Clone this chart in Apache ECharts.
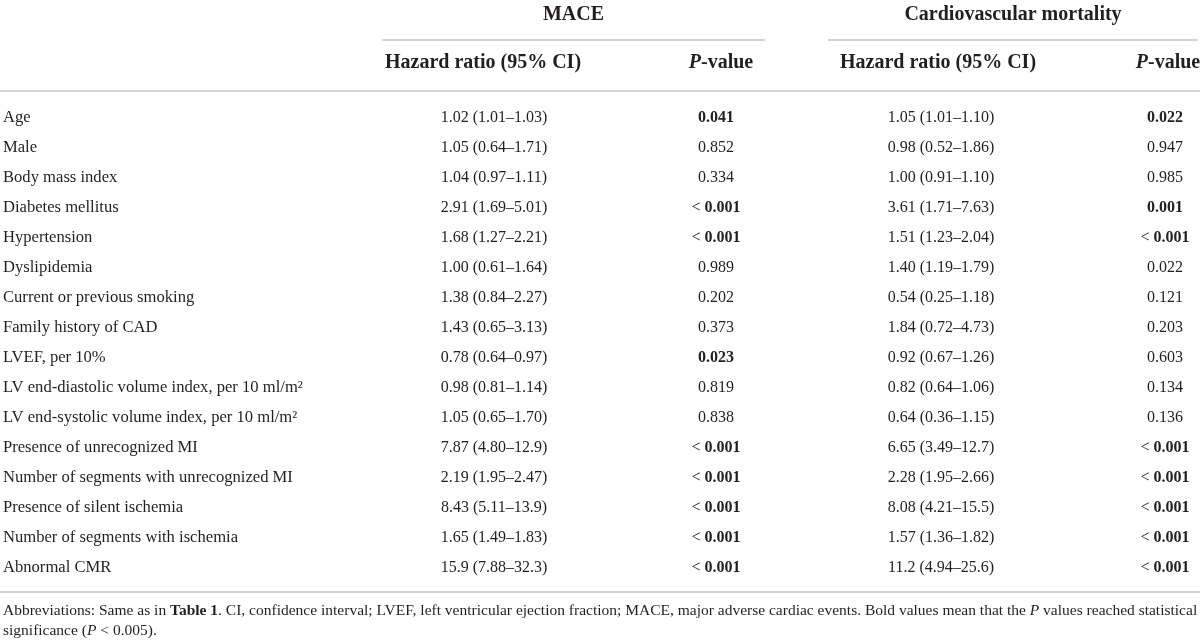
<!DOCTYPE html>
<html lang="en">
<head>
<meta charset="utf-8">
<title>Cox regression table</title>
<script src="https://cdn.jsdelivr.net/npm/echarts@6/dist/echarts.min.js"></script>
<style>
  html, body { margin: 0; padding: 0; background: #fff; }
  #main { width: 1200px; height: 643px; }
</style>
</head>
<body>
<div id="main"></div>
<script type="text/javascript">
  // table content
  let rowNames = [
    'Age', 'Male', 'Body mass index', 'Diabetes mellitus', 'Hypertension', 'Dyslipidemia',
    'Current or previous smoking', 'Family history of CAD', 'LVEF, per 10%',
    'LV end-diastolic volume index, per 10 ml/m\u00b2', 'LV end-systolic volume index, per 10 ml/m\u00b2',
    'Presence of unrecognized MI', 'Number of segments with unrecognized MI',
    'Presence of silent ischemia', 'Number of segments with ischemia', 'Abnormal CMR'
  ];
  let maceHR = [
    '1.02 (1.01\u20131.03)', '1.05 (0.64\u20131.71)', '1.04 (0.97\u20131.11)', '2.91 (1.69\u20135.01)',
    '1.68 (1.27\u20132.21)', '1.00 (0.61\u20131.64)', '1.38 (0.84\u20132.27)', '1.43 (0.65\u20133.13)',
    '0.78 (0.64\u20130.97)', '0.98 (0.81\u20131.14)', '1.05 (0.65\u20131.70)', '7.87 (4.80\u201312.9)',
    '2.19 (1.95\u20132.47)', '8.43 (5.11\u201313.9)', '1.65 (1.49\u20131.83)', '15.9 (7.88\u201332.3)'
  ];
  let maceP = ['0.041', '0.852', '0.334', '< 0.001', '< 0.001', '0.989', '0.202', '0.373',
    '0.023', '0.819', '0.838', '< 0.001', '< 0.001', '< 0.001', '< 0.001', '< 0.001'];
  let maceBold = [1, 0, 0, 1, 1, 0, 0, 0, 1, 0, 0, 1, 1, 1, 1, 1];
  let cvHR = [
    '1.05 (1.01\u20131.10)', '0.98 (0.52\u20131.86)', '1.00 (0.91\u20131.10)', '3.61 (1.71\u20137.63)',
    '1.51 (1.23\u20132.04)', '1.40 (1.19\u20131.79)', '0.54 (0.25\u20131.18)', '1.84 (0.72\u20134.73)',
    '0.92 (0.67\u20131.26)', '0.82 (0.64\u20131.06)', '0.64 (0.36\u20131.15)', '6.65 (3.49\u201312.7)',
    '2.28 (1.95\u20132.66)', '8.08 (4.21\u201315.5)', '1.57 (1.36\u20131.82)', '11.2 (4.94\u201325.6)'
  ];
  let cvP = ['0.022', '0.947', '0.985', '0.001', '< 0.001', '0.022', '0.121', '0.203',
    '0.603', '0.134', '0.136', '< 0.001', '< 0.001', '< 0.001', '< 0.001', '< 0.001'];
  let cvBold = [1, 0, 0, 1, 1, 0, 0, 0, 0, 0, 0, 1, 1, 1, 1, 1];

  let groupTitles = ['MACE', 'Cardiovascular mortality'];
  let columnTitles = ['Hazard ratio (95% CI)', '{i|P}-value', 'Hazard ratio (95% CI)', '{i|P}-value'];
  let footnote = '{r|Abbreviations: Same as in }{b|Table 1}{r|. CI, confidence interval; LVEF, left ventricular ejection fraction; MACE, major adverse cardiac events. Bold values mean that the }{i|P}{r| values reached statistical}\n{r|significance (}{i|P}{r| < 0.005).}';

  // layout
  const FONT = '"Liberation Serif", "Times New Roman", serif';
  const INK = '#231f20';
  const RULE = '#c6c6c6';
  const rowH = 30;
  const rowTop = 103;
  const colX = [3, 494, 716, 941, 1165];      // body cell anchors
  const headX = [483, 721, 938, 1168];        // header anchors
  const groupSpan = [[382, 765], [828, 1198]];
  const bodySize = 16;
  const labelSize = 16.6;
  const headSize = 20;
  const noteSize = 15.5;

  // bold p-values keep the "<" in regular weight
  function pText(p, bold) {
    if (!bold) return '{r|' + p + '}';
    if (p.indexOf('<') === 0) return '{r|< }{b|' + p.slice(2) + '}';
    return '{b|' + p + '}';
  }

  function richFor(size) {
    return {
      r: { fontFamily: FONT, fontSize: size, fill: INK, color: INK },
      b: { fontFamily: FONT, fontSize: size, fontWeight: 'bold', fill: INK, color: INK }
    };
  }

  function cell(x, y, text, align, size) {
    return {
      type: 'text',
      style: {
        x: x, y: y, text: text, align: align, verticalAlign: 'middle',
        fontFamily: FONT, fontSize: size, fill: INK, rich: richFor(size)
      }
    };
  }

  let tableEnd = rowTop + rowH * rowNames.length;

  let graphics = [];
  groupTitles.forEach((t, k) => {
    let s = groupSpan[k];
    graphics.push({
      type: 'text', x: (s[0] + s[1]) / 2, y: 15,
      style: { text: t, align: 'center', verticalAlign: 'middle', fontFamily: FONT,
        fontSize: headSize, fontWeight: 'bold', fill: INK }
    });
    graphics.push({
      type: 'line', shape: { x1: s[0], y1: 40, x2: s[1], y2: 40 },
      style: { stroke: RULE, lineWidth: 1.5 }
    });
  });
  columnTitles.forEach((t, k) => {
    graphics.push({
      type: 'text', x: headX[k], y: 63,
      style: { text: t, align: 'center', verticalAlign: 'middle', fontFamily: FONT,
        fontSize: headSize, fontWeight: 'bold', fill: INK,
        rich: {
          i: { fontFamily: FONT, fontSize: headSize, fontWeight: 'bold', fontStyle: 'italic', fill: INK, color: INK }
        } }
    });
  });
  graphics.push({ type: 'line', shape: { x1: 0, y1: 91, x2: 1200, y2: 91 }, style: { stroke: RULE, lineWidth: 1.5 } });
  graphics.push({ type: 'line', shape: { x1: 0, y1: tableEnd + 9, x2: 1200, y2: tableEnd + 9 }, style: { stroke: RULE, lineWidth: 1.5 } });
  graphics.push({
    type: 'text', x: 3, y: tableEnd + 18,
    style: {
      text: footnote, align: 'left', verticalAlign: 'top', fontFamily: FONT, fontSize: noteSize,
      fill: INK, lineHeight: 20,
      rich: {
        r: { fontFamily: FONT, fontSize: noteSize, fill: INK, color: INK, lineHeight: 20 },
        b: { fontFamily: FONT, fontSize: noteSize, fontWeight: 'bold', fill: INK, color: INK, lineHeight: 20 },
        i: { fontFamily: FONT, fontSize: noteSize, fontStyle: 'italic', fill: INK, color: INK, lineHeight: 20 }
      }
    }
  });

  let chart = echarts.init(document.getElementById('main'), null, { renderer: 'canvas' });

  let option = {
    backgroundColor: '#fff',
    animation: false,
    grid: { left: 0, right: 0, top: rowTop, height: rowH * rowNames.length },
    xAxis: { type: 'value', min: 0, max: 1200, show: false },
    yAxis: { type: 'category', data: rowNames, inverse: true, show: false },
    graphic: graphics,
    series: [{
      type: 'custom',
      data: rowNames.map((n, i) => [i]),
      renderItem: function (params, api) {
        let i = api.value(0);
        let y = api.coord([0, i])[1];
        return {
          type: 'group',
          children: [
            cell(api.coord([colX[0], i])[0], y, '{r|' + rowNames[i] + '}', 'left', labelSize),
            cell(api.coord([colX[1], i])[0], y, '{r|' + maceHR[i] + '}', 'center', bodySize),
            cell(api.coord([colX[2], i])[0], y, pText(maceP[i], maceBold[i]), 'center', bodySize),
            cell(api.coord([colX[3], i])[0], y, '{r|' + cvHR[i] + '}', 'center', bodySize),
            cell(api.coord([colX[4], i])[0], y, pText(cvP[i], cvBold[i]), 'center', bodySize)
          ]
        };
      }
    }]
  };

  chart.setOption(option);
</script>
</body>
</html>
